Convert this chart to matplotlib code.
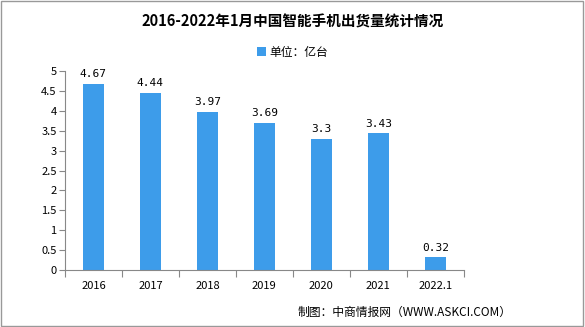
import matplotlib
matplotlib.use("Agg")
import matplotlib.pyplot as plt

plt.rcParams['font.family'] = ['Noto Sans CJK SC', 'DejaVu Sans']
plt.rcParams['font.size'] = 8

years = ["2016", "2017", "2018", "2019", "2020", "2021", "2022.1"]
shipments = [4.67, 4.44, 3.97, 3.69, 3.3, 3.43, 0.32]
yticks = [0, 0.5, 1, 1.5, 2, 2.5, 3, 3.5, 4, 4.5, 5]
ytick_labels = ["0", "0.5", "1", "1.5", "2", "2.5", "3", "3.5", "4", "4.5", "5"]

bar_color = "#3d9cea"

fig = plt.figure(figsize=(5.85, 3.27), dpi=100)
ax = fig.add_axes([0.111, 0.174, 0.682, 0.609])

xs = range(len(years))
ax.bar(xs, shipments, width=0.37, color=bar_color, label="单位：亿台")

for x, v in zip(xs, shipments):
    ax.text(x, v + 0.12, str(v), ha='center', va='bottom', fontsize=8, family='DejaVu Sans Mono')

ax.set_xlim(-0.5, len(years) - 0.5)
ax.set_ylim(0, 5)
ax.set_yticks(yticks)
ax.set_yticklabels(ytick_labels)
ax.set_xticks([x - 0.5 for x in range(len(years) + 1)], minor=False)
ax.set_xticklabels([])
ax.set_xticks(list(xs), minor=True)
ax.set_xticklabels(years, minor=True)
ax.tick_params(axis='x', which='minor', length=0, pad=8)
ax.tick_params(axis='x', which='major', length=5, color='#888888')
ax.tick_params(axis='y', length=4, color='#888888', pad=2)

for s in ['top', 'right']:
    ax.spines[s].set_visible(False)
ax.spines['left'].set_color('#888888')
ax.spines['bottom'].set_color('#888888')

fig.text(0.5, 0.935, "2016-2022年1月中国智能手机出货量统计情况", ha='center', va='center',
         fontsize=10.5, fontweight='bold')
fig.legend(loc='center', bbox_to_anchor=(0.5, 0.84), frameon=False, fontsize=8.5,
           handlelength=0.8, handleheight=0.8, handletextpad=0.3)
fig.text(0.875, 0.045, "制图：中商情报网（WWW.ASKCI.COM）", ha='right', va='center', fontsize=8.5)

fig.patches.append(plt.Rectangle((0.002, 0.003), 0.995, 0.994, transform=fig.transFigure,
                                 fill=False, edgecolor='#999999', linewidth=1))

fig.savefig("out.png", dpi=100)
